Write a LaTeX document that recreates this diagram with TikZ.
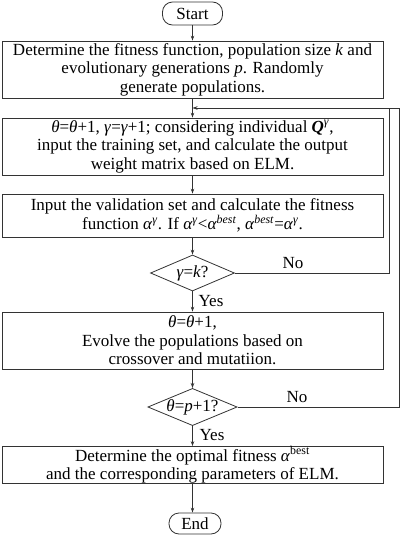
\documentclass[tikz,border=0pt]{standalone}
\usepackage{fontspec}
\setmainfont{Liberation Serif}
\usetikzlibrary{shapes.geometric,arrows.meta}
\newcommand{\mi}[1]{\textit{#1}}
\begin{document}
\begin{tikzpicture}[x=1pt,y=-1pt,
  every node/.style={font=\fontsize{17}{18.5}\selectfont},
  procbox/.style={draw=black!80,line width=0.8pt,minimum width=381pt,inner sep=0pt,align=center},
  term/.style={draw=black!80,line width=0.8pt,rounded corners=10pt,inner sep=0pt},
  decis/.style={draw=black!80,line width=0.8pt,diamond,aspect=2.4,inner sep=0pt,minimum width=84pt},
  flow/.style={draw=black!80,line width=0.8pt,-{Stealth[length=5pt,width=3.5pt]}},
  plain/.style={draw=black!80,line width=0.8pt},
  lbl/.style={inner sep=0pt}]
\useasboundingbox (0,0) rectangle (400,536);
\node[term,minimum width=60pt,minimum height=23pt] (start) at (192.5,13.5) {Start};
\node[procbox,minimum height=57pt] (b1) at (192.5,69.5) {Determine the fitness function, population size \mi{k} and\\ evolutionary generations \mi{p}. Randomly\\ generate populations.};
\node[procbox,minimum height=57pt] (b2) at (192.5,146.5) {\mi{θ}=\mi{θ}+1, \mi{γ}=\mi{γ}+1; considering individual \textbf{\textit{Q}}\textsuperscript{\mi{γ}},\\ input the training set, and calculate the output\\ weight matrix based on ELM.};
\node[procbox,minimum height=43pt] (b3) at (192.5,215.5) {Input the validation set and calculate the fitness\\ function \mi{α}\textsuperscript{\mi{γ}}. If \mi{α}\textsuperscript{\mi{γ}}<\mi{α}\textsuperscript{\mi{best}}, \mi{α}\textsuperscript{\mi{best}}=\mi{α}\textsuperscript{\mi{γ}}.};
\node[decis,minimum height=36pt] (d1) at (192.5,273) {\mi{γ}=\mi{k}?};
\node[procbox,minimum height=57pt] (b4) at (192.5,340.5) {\mi{θ}=\mi{θ}+1,\\ Evolve the populations based on\\ crossover and mutatiion.};
\node[decis,minimum height=34pt] (d2) at (192.5,407) {\mi{θ}=\mi{p}+1?};
\node[procbox,minimum height=37pt] (b5) at (192.5,465) {Determine the optimal fitness \mi{α}\textsuperscript{best}\\ and the corresponding parameters of ELM.};
\node[term,minimum width=52pt,minimum height=21pt] (end) at (195,523.5) {End};
\coordinate (join) at (192.5,108);
\coordinate (r1) at (389,108);
\coordinate (r2) at (399,108);
\node[lbl] (no1) at (293,263) {No};
\node[lbl] (yes1) at (211,301) {Yes};
\node[lbl] (no2) at (297,397) {No};
\node[lbl] (yes2) at (212,435) {Yes};
\draw[flow] (start.south) -- (b1.north);
\draw[flow] (b1.south) -- (b2.north);
\draw[flow] (b2.south) -- (b3.north);
\draw[flow] (b3.south) -- (d1.north);
\draw[flow] (d1.south) -- (b4.north);
\draw[flow] (b4.south) -- (d2.north);
\draw[flow] (d2.south) -- (b5.north);
\draw[flow] (b5.south) -- (b5.south |- end.north);
\draw[flow] (d1.east) -| (r1) -- (join);
\draw[plain] (d2.east) -| (r2) -- (r1);
\end{tikzpicture}
\end{document}
